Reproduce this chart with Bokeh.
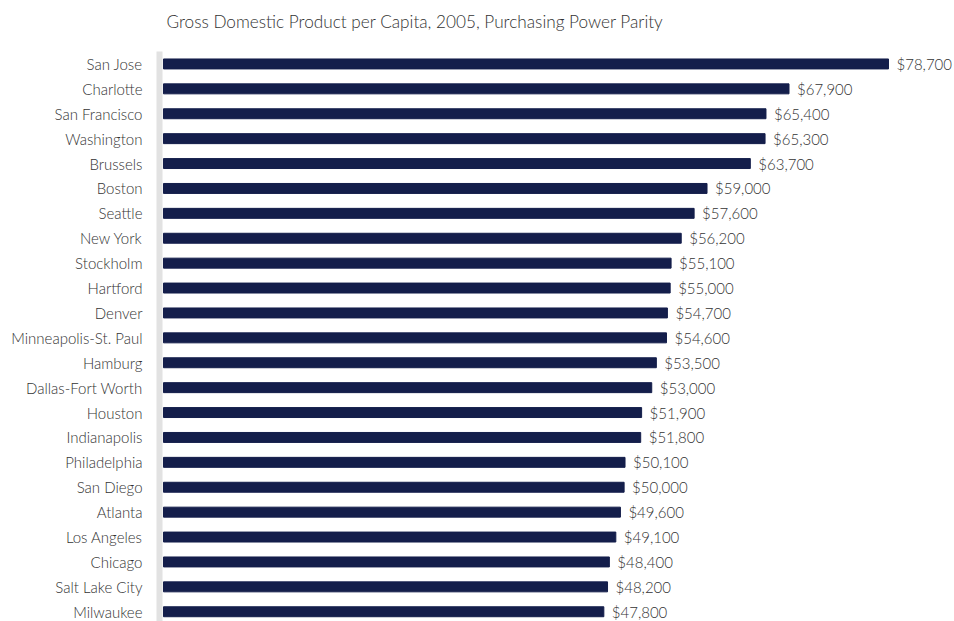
from bokeh.plotting import figure
from bokeh.models import ColumnDataSource, LabelSet, FixedTicker, Range1d
from bokeh.core.properties import value
from bokeh.embed import file_html
from bokeh.resources import INLINE

cities = ["San Jose", "Charlotte", "San Francisco", "Washington", "Brussels", "Boston",
          "Seattle", "New York", "Stockholm", "Hartford", "Denver", "Minneapolis-St. Paul",
          "Hamburg", "Dallas-Fort Worth", "Houston", "Indianapolis", "Philadelphia",
          "San Diego", "Atlanta", "Los Angeles", "Chicago", "Salt Lake City", "Milwaukee"]
gdp = [78700, 67900, 65400, 65300, 63700, 59000, 57600, 56200, 55100, 55000, 54700,
       54600, 53500, 53000, 51900, 51800, 50100, 50000, 49600, 49100, 48400, 48200, 47800]
title_text = "Gross Domestic Product per Capita, 2005, Purchasing Power Parity"

FONT = "Lato Light"
W, H = 954, 621
LEFT, TOP = 159, 51
ROW_PX = 24.9
PX_PER_UNIT = 725 / 78700
GAP_PX = 4

idx = list(range(len(cities)))
labels = ["${:,}".format(v) for v in gdp]
src = ColumnDataSource(dict(y=idx, v=gdp, lab=labels))

frame_w = W - LEFT
frame_h = H - TOP
x_start = -GAP_PX / PX_PER_UNIT
x_end = x_start + frame_w / PX_PER_UNIT
y_end = -0.5
y_start = y_end + frame_h / ROW_PX

p = figure(width=W, height=H, output_backend="svg", toolbar_location=None,
           x_range=Range1d(x_start, x_end), y_range=Range1d(y_start, y_end),
           min_border_left=LEFT, min_border_right=0, min_border_top=TOP, min_border_bottom=0,
           title=title_text)
p.hbar(y="y", right="v", left=0, height=0.4, source=src, color="#141e4b")
p.add_layout(LabelSet(x="v", y="y", text="lab", source=src, x_offset=8,
                      text_baseline="middle", text_font=value(FONT), text_font_size="15px",
                      text_color="#333333"))

p.xaxis.visible = False
p.xgrid.visible = False
p.ygrid.visible = False
p.outline_line_color = None
p.background_fill_color = "white"
p.border_fill_color = "white"

ya = p.yaxis[0]
ya.ticker = FixedTicker(ticks=idx)
ya.major_label_overrides = {i: c for i, c in zip(idx, cities)}
ya.major_tick_line_color = None
ya.minor_tick_line_color = None
ya.axis_line_color = "#e2e2e2"
ya.axis_line_width = 6
ya.major_label_standoff = 11
ya.major_label_text_font = FONT
ya.major_label_text_font_size = "15px"
ya.major_label_text_color = "#333333"

p.title.text_font = FONT
p.title.text_font_style = "normal"
p.title.text_font_size = "17.2px"
p.title.text_color = "#333333"
p.title.align = "left"
p.title.vertical_align = "bottom"
p.title.offset = 7
try:
    p.title.padding = dict(left=0, right=0, top=0, bottom=20)
    p.title.standoff = 0
except Exception:
    p.title.standoff = 20

open("out.html", "w").write(file_html(p, INLINE))
